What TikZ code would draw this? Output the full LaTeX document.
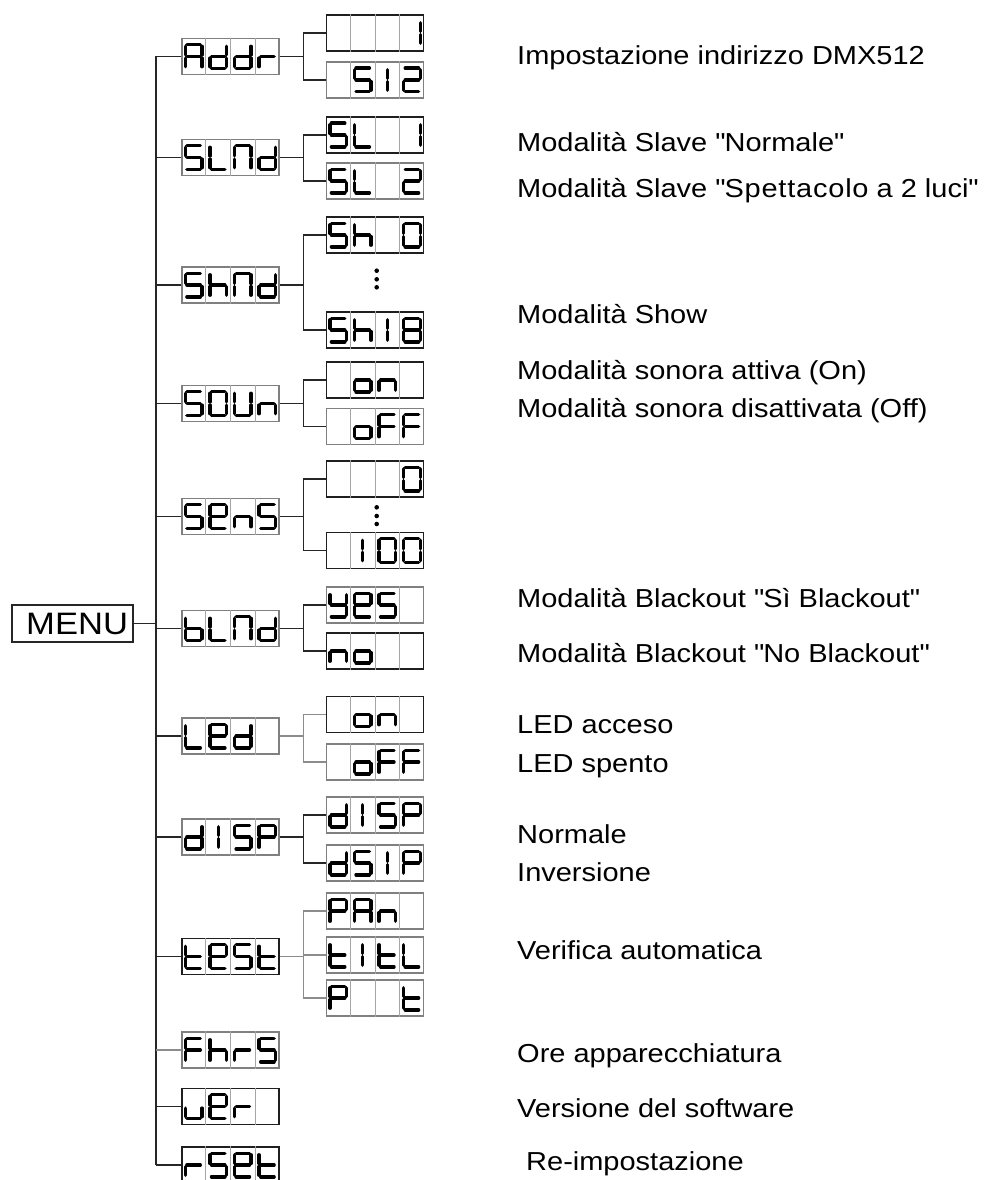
\documentclass[tikz,border=0pt]{standalone}
\usepackage{fontspec}
\setmainfont{Liberation Sans}[FakeStretch=1.115]
\usetikzlibrary{calc}
\newcommand\lsw{8.3}
\newcommand\lsh{11.8}
\newcommand\lsg{1.6}
\newcommand\lcdsega{\draw[segline] (-\lsw+\lsg,-\lsh) -- (\lsw-\lsg,-\lsh);}
\newcommand\lcdsegb{\draw[segline] (\lsw,-\lsh+\lsg) -- (\lsw,-\lsg);}
\newcommand\lcdsegc{\draw[segline] (\lsw,\lsg) -- (\lsw,\lsh-\lsg);}
\newcommand\lcdsegd{\draw[segline] (-\lsw+\lsg,\lsh) -- (\lsw-\lsg,\lsh);}
\newcommand\lcdsege{\draw[segline] (-\lsw,\lsg) -- (-\lsw,\lsh-\lsg);}
\newcommand\lcdsegf{\draw[segline] (-\lsw,-\lsh+\lsg) -- (-\lsw,-\lsg);}
\newcommand\lcdsegg{\draw[segline] (-\lsw+\lsg,0) -- (\lsw-\lsg,0);}
\newcommand\lcdsegi{\draw[segline] (0,-\lsh+\lsg) -- (0,-\lsg); \draw[segline] (0,\lsg) -- (0,\lsh-\lsg);}
\newcommand\lcdsegz{}
\def\lgA{a,b,c,e,f,g}
\def\lgd{b,c,d,e,g}
\def\lgr{e,g}
\def\lgS{a,f,g,c,d}
\def\lgL{f,e,d}
\def\lgN{a,b,c,e,f}
\def\lgh{f,e,g,c}
\def\lgO{a,b,c,d,e,f}
\def\lgEight{a,b,c,d,e,f,g}
\def\lgOne{b,c}
\def\lgI{i}
\def\lgTwo{a,b,g,e,d}
\def\lgo{g,c,d,e}
\def\lgn{g,c,e}
\def\lgF{a,f,e,g}
\def\lgE{a,b,f,g,e,d}
\def\lgU{b,c,d,e,f}
\def\lgy{b,c,d,f,g}
\def\lgP{a,b,f,g,e}
\def\lgt{f,e,d,g}
\def\lgv{e,d,c}
\def\lgb{f,e,d,c,g}
\def\lgz{z}
\newcommand\lcdglyph[3]{\begin{scope}[shift={($(#1.west)!#2!(#1.east)$)}]\foreach \s in #3 {\csname lcdseg\s\endcsname}\end{scope}}
\newcommand\lcd[5]{%
  \foreach \k in {0.25,0.5,0.75}{\draw[celldiv] ($(#1.north west)!\k!(#1.north east)$) -- ($(#1.south west)!\k!(#1.south east)$);}
  \lcdglyph{#1}{0.125}{#2}\lcdglyph{#1}{0.375}{#3}\lcdglyph{#1}{0.625}{#4}\lcdglyph{#1}{0.875}{#5}}
\newcommand\branch[3]{%
  \draw[conn] (#1.east) -- ($(#1.east -| #2.west)+(-22,0)$);
  \draw[conn] (#2.west) -- ++(-22,0) |- (#3.west);}
\newcommand\qq{\textquotedbl}
\begin{document}
\begin{tikzpicture}[x=1pt,y=-1pt,
  segline/.style={line width=3.4pt, line cap=round, black},
  celldiv/.style={draw=black!35, line width=1pt},
  lcdbox/.style={draw=black!50, line width=1.4pt, minimum width=97, minimum height=36, inner sep=0pt},
  lcdk/.style={lcdbox, draw=black!88},
  conn/.style={draw=black!85, line width=1.3pt},
  connl/.style={draw=black!45, line width=1.3pt},
  desc/.style={anchor=base west, inner sep=0pt, font=\fontsize{26}{30}\selectfont},
  dotfill/.style={fill=black}]
\useasboundingbox (0,0) rectangle (984,1180);
% MENU
\node[draw=black!85, line width=1.3pt, minimum width=121, minimum height=37, inner sep=0pt,
      text width=111pt, align=right, font=\fontsize{31}{31}\selectfont] (menu) at (72.5,623.5) {MENU};
% first level
\node[lcdbox] (addr) at (230.5,56.5) {};
\node[lcdbox] (slnd) at (230.5,157.5) {};
\node[lcdbox] (shnd) at (230.5,285) {};
\node[lcdbox] (soun) at (230.5,403.5) {};
\node[lcdbox] (sens) at (230.5,516.5) {};
\node[lcdbox] (blnd) at (230.5,628.5) {};
\node[lcdbox] (led) at (230.5,736) {};
\node[lcdbox] (disp) at (230.5,837) {};
\node[lcdk] (test) at (230.5,956.5) {};
\node[lcdbox] (fhrs) at (230.5,1050) {};
\node[lcdk] (ver) at (230.5,1106.5) {};
\node[lcdk] (rset) at (230.5,1165) {};
% second level
\node[lcdk] (addra) at (375,33) {};
\node[lcdbox] (addrb) at (375,80) {};
\node[lcdk] (sla) at (375,135) {};
\node[lcdbox] (slb) at (375,181) {};
\node[lcdk] (sha) at (375,235) {};
\node[lcdk] (shb) at (375,330) {};
\node[lcdk] (sona) at (375,380) {};
\node[lcdbox] (sonb) at (375,426.5) {};
\node[lcdk] (sensa) at (375,479) {};
\node[lcdk] (sensb) at (375,550.5) {};
\node[lcdbox] (bla) at (375,605) {};
\node[lcdk] (blb) at (375,651) {};
\node[lcdk] (leda) at (375,714.5) {};
\node[lcdbox] (ledb) at (375,762) {};
\node[lcdbox] (dispa) at (375,815) {};
\node[lcdbox] (dispb) at (375,863) {};
\node[lcdbox] (testa) at (375,911) {};
\node[lcdbox] (testb) at (375,955) {};
\node[lcdbox] (testc) at (375,998) {};
% glyphs
\lcd{addr}{\lgA}{\lgd}{\lgd}{\lgr}
\lcd{slnd}{\lgS}{\lgL}{\lgN}{\lgd}
\lcd{shnd}{\lgS}{\lgh}{\lgN}{\lgd}
\lcd{soun}{\lgS}{\lgO}{\lgU}{\lgn}
\lcd{sens}{\lgS}{\lgE}{\lgn}{\lgS}
\lcd{blnd}{\lgb}{\lgL}{\lgN}{\lgd}
\lcd{led}{\lgL}{\lgE}{\lgd}{\lgz}
\lcd{disp}{\lgd}{\lgI}{\lgS}{\lgP}
\lcd{test}{\lgt}{\lgE}{\lgS}{\lgt}
\lcd{fhrs}{\lgF}{\lgh}{\lgr}{\lgS}
\lcd{ver}{\lgv}{\lgE}{\lgr}{\lgz}
\lcd{rset}{\lgr}{\lgS}{\lgE}{\lgt}
\lcd{addra}{\lgz}{\lgz}{\lgz}{\lgOne}
\lcd{addrb}{\lgz}{\lgS}{\lgI}{\lgTwo}
\lcd{sla}{\lgS}{\lgL}{\lgz}{\lgOne}
\lcd{slb}{\lgS}{\lgL}{\lgz}{\lgTwo}
\lcd{sha}{\lgS}{\lgh}{\lgz}{\lgO}
\lcd{shb}{\lgS}{\lgh}{\lgI}{\lgEight}
\lcd{sona}{\lgz}{\lgo}{\lgn}{\lgz}
\lcd{sonb}{\lgz}{\lgo}{\lgF}{\lgF}
\lcd{sensa}{\lgz}{\lgz}{\lgz}{\lgO}
\lcd{sensb}{\lgz}{\lgI}{\lgO}{\lgO}
\lcd{bla}{\lgy}{\lgE}{\lgS}{\lgz}
\lcd{blb}{\lgn}{\lgo}{\lgz}{\lgz}
\lcd{leda}{\lgz}{\lgo}{\lgn}{\lgz}
\lcd{ledb}{\lgz}{\lgo}{\lgF}{\lgF}
\lcd{dispa}{\lgd}{\lgI}{\lgS}{\lgP}
\lcd{dispb}{\lgd}{\lgS}{\lgI}{\lgP}
\lcd{testa}{\lgP}{\lgA}{\lgn}{\lgz}
\lcd{testb}{\lgt}{\lgI}{\lgt}{\lgL}
\lcd{testc}{\lgP}{\lgz}{\lgz}{\lgt}
% trunk
\coordinate (ttop) at (156,56.5);
\coordinate (tbot) at (156,1165);
\draw[conn] (ttop) -- (tbot);
\draw[conn] (menu.east) -- (menu.east -| ttop);
\foreach \p in {addr,slnd,shnd,soun,sens,blnd,led,disp,test,ver,rset}
  {\draw[conn] (\p.west) -- (\p.west -| ttop);}
\draw[connl] (fhrs.west) -- (fhrs.west -| ttop);
% branches
\branch{addr}{addra}{addrb}
\branch{slnd}{sla}{slb}
\branch{shnd}{sha}{shb}
\branch{soun}{sona}{sonb}
\branch{sens}{sensa}{sensb}
\branch{blnd}{bla}{blb}
\draw[connl] (led.east) -- ($(led.east -| leda.west)+(-22,0)$);
\draw[connl] (leda.west) -- ++(-22,0) |- (ledb.west);
\branch{disp}{dispa}{dispb}
\draw[connl] (test.east) -- ($(test.east -| testa.west)+(-22,0)$);
\draw[connl] (testa.west) -- ++(-22,0) |- (testc.west);
\draw[connl] (testb.west) -- ++(-22,0);
% dots
\foreach \yy in {270.7,279.3,287.3,507.3,516,524} {\fill[dotfill] (376.7,\yy) circle (2.3);}
% descriptions
\node[desc] (t1) at (517,65) {Impostazione indirizzo DMX512};
\node[desc] (t2) at (517,151) {Modalità Slave \qq Normale\qq};
\node[desc] (t3) at (517,197) {Modalità Slave \qq{\addfontfeatures{LetterSpace=3}Spettacolo} a 2 luci\qq};
\node[desc] (t4) at (517,323) {Modalità Show};
\node[desc] (t5) at (517,379) {Modalità sonora attiva (On)};
\node[desc] (t6) at (517,417) {Modalità sonora disattivata (Off)};
\node[desc] (t7) at (517,607) {Modalità Blackout \qq Sì Blackout\qq};
\node[desc] (t8) at (517,662) {Modalità Blackout \qq No Blackout\qq};
\node[desc] (t9) at (517,733) {LED acceso};
\node[desc] (t10) at (517,772) {LED spento};
\node[desc] (t11) at (517,843) {Normale};
\node[desc] (t12) at (517,881) {Inversione};
\node[desc] (t13) at (517,959) {Verifica automatica};
\node[desc] (t14) at (517,1062) {Ore apparecchiatura};
\node[desc] (t15) at (517,1117) {Versione del software};
\node[desc] (t16) at (526,1170) {Re-impostazione};
\end{tikzpicture}
\end{document}
